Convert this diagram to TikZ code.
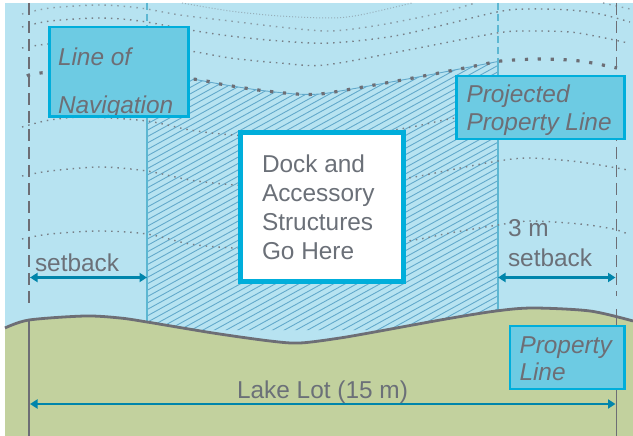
\documentclass[tikz,border=0pt]{standalone}
\usepackage{fontspec}
\setmainfont{Liberation Sans}
\usetikzlibrary{arrows.meta}
\definecolor{lake}{HTML}{B7E3F1}
\definecolor{land}{HTML}{C2D19E}
\definecolor{boxfill}{HTML}{6DCBE3}
\definecolor{boxline}{HTML}{00AEDB}
\definecolor{hatchc}{HTML}{62A9CB}
\definecolor{setc}{HTML}{5DB7D2}
\definecolor{greyc}{HTML}{6D6E75}
\definecolor{textc}{HTML}{6B7078}
\definecolor{arrowc}{HTML}{0085AB}
\tikzset{
  label text/.style={inner sep=0pt,outer sep=0pt,anchor=base west,text=textc,align=left,font=\fontsize{24.4}{29}\selectfont},
  tag text/.style={inner sep=0pt,outer sep=0pt,anchor=base west,text=greyc,align=left,font=\fontsize{24.4}{27.5}\selectfont\itshape},
  tag box/.style={draw=boxline,fill=boxfill,line width=2.4pt,inner sep=0pt,outer sep=0pt},
  dim arrow/.style={draw=arrowc,line width=2.2pt,{Triangle[length=7.5pt,width=9pt]}-{Triangle[length=7.5pt,width=9pt]}},
  fine dots/.style={draw=greyc!85!lake,line width=1.4pt,dash pattern=on 1.5pt off 4.9pt},
  faint dots/.style={draw=greyc!45!lake,line width=1pt,dash pattern=on 1pt off 2pt},
  heavy dots/.style={draw=greyc,line width=3.2pt,dash pattern=on 3.2pt off 9.7pt},
  prop dashed/.style={draw=greyc,line width=1.4pt,dash pattern=on 12pt off 6pt},
  prop solid/.style={draw=greyc,line width=1.6pt},
  set dashed/.style={draw=setc,line width=1.2pt,dash pattern=on 7pt off 4pt},
  set solid/.style={draw=setc,line width=1.2pt},
}
\begin{document}
\begin{tikzpicture}[x=1pt,y=-1pt]
\useasboundingbox (0,0) rectangle (633,436);
\fill[lake] (5,3) rectangle (633,345);
% hatched buildable area
\begin{scope}
\clip (147,73) -- plot[smooth] coordinates {(147,73) (193,79) (220,84) (258,90) (296,94) (320,94) (346,90) (413,78) (480,65) (498,61.5)} -- (498,330) -- (147,330) -- cycle;
\foreach \k in {0,...,80} {
  \draw[hatchc,line width=.9pt] (147,60+\k*6.4) -- (498,60+\k*6.4-193);
}
\end{scope}
\draw[hatchc,line width=.9pt] plot[smooth] coordinates {(193,79) (220,84) (258,90) (296,94) (320,94) (346,90) (413,78) (480,65) (498,61.5)};
% setback lines
\draw[set dashed] (147,3) -- (147,73);
\draw[set dashed] (498,3) -- (498,61);
\draw[set solid] (147,73) -- (147,323);
\draw[set solid] (498,61) -- (498,312);
% depth contours
\draw[faint dots] plot[smooth] coordinates {(182,3) (230,11) (280,16) (330,18) (360,15) (412,3)};
\draw[fine dots,draw=greyc!60!lake] plot[smooth] coordinates {(22,14) (50,8) (100,5) (140,8) (180,15) (230,21) (280,27) (330,31) (380,25) (440,13) (475,3)};
\draw[fine dots,draw=greyc!60!lake] plot[smooth] coordinates {(603,3) (630,9)};
\draw[fine dots] plot[smooth] coordinates {(22,27) (50,21) (100,18) (140,21) (190,30) (230,36) (280,41) (330,43) (400,35) (497,12) (530,9) (570,10) (600,14) (630,22)};
\draw[fine dots] plot[smooth] coordinates {(22,48) (48,44) (110,40) (190,51) (230,58) (280,63) (325,65) (408,50) (497,33) (530,31) (570,32) (600,37) (628,43)};
\draw[fine dots] plot[smooth] coordinates {(22,127) (50,120) (87,117) (147,121) (190,130) (233,135) (320,140) (406,128) (455,118) (530,108) (600,112) (626,120)};
\draw[fine dots] plot[smooth] coordinates {(22,176) (50,171) (100,167) (147,171) (190,180) (235,185) (320,190) (408,178) (450,170) (498,161) (530,158) (580,162) (628,170)};
\draw[fine dots] plot[smooth] coordinates {(22,239) (50,234) (100,231) (147,234) (190,244) (233,248) (320,252) (408,241) (450,233) (498,225) (530,221) (580,224) (613,229) (628,234)};
\draw[heavy dots] plot[smooth] coordinates {(27,76) (40,73) (100,70) (193,79) (220,84) (258,90) (296,94) (320,94) (346,90) (413,78) (480,65) (501,61) (540,59) (580,61) (617,68)};
% land
\fill[land] plot[smooth] coordinates {(5,328) (29,320) (85,316) (120,318) (147,322) (213,333) (270,341) (300,343) (340,338) (380,331) (446,319) (496,311) (533,308) (590,311) (633,321)} -- (633,436) -- (5,436) -- cycle;
% property lines
\coordinate (ltop) at (29,3);
\coordinate (lmid) at (29,306);
\coordinate (lgnd) at (29,319);
\coordinate (lbot) at (29,436);
\coordinate (rtop) at (616.5,3);
\coordinate (rmid) at (616.5,296);
\coordinate (rgnd) at (616.5,309);
\coordinate (rbot) at (616.5,436);
\draw[prop dashed] (ltop) -- (lmid);
\draw[prop solid] (lgnd) -- (lbot);
\draw[prop dashed] (rtop) -- (rmid);
\draw[prop solid] (rgnd) -- (rbot);
\draw[greyc,line width=2.8pt] plot[smooth] coordinates {(5,328) (29,320) (85,316) (120,318) (147,322) (213,333) (270,341) (300,343) (340,338) (380,331) (446,319) (496,311) (533,308) (590,311) (633,321)};
% dimension arrows
\coordinate (a1) at (30,277.5);
\coordinate (a2) at (147,277.5);
\coordinate (a3) at (498,277.5);
\coordinate (a4) at (615.5,277.5);
\coordinate (a5) at (30,404);
\coordinate (a6) at (615.5,404);
\draw[dim arrow] (a1) -- (a2);
\draw[dim arrow] (a3) -- (a4);
\draw[dim arrow] (a5) -- (a6);
% boxes
\node[tag box,minimum width=139pt,minimum height=89.5pt,anchor=north west] (nav) at (49.3,27) {};
\begin{scope}
\clip (49,27) rectangle (188,114.5);
\node[tag text,font=\fontsize{24.4}{48}\selectfont\itshape] (navt) at (58,113.5) {Line of\\Navigation};
\end{scope}
\node[tag box,minimum width=168pt,minimum height=63pt,anchor=north west] (proj) at (456.5,76) {};
\node[tag text] (projt) at (466.5,130.3) {Projected\\Property Line};
\node[tag box,minimum width=114.5pt,minimum height=63pt,anchor=north west] (prop) at (510,326) {};
\node[tag text,font=\fontsize{24.4}{26.7}\selectfont\itshape] (propt) at (519.5,380.5) {Property\\Line};
\node[draw=boxline,fill=white,line width=4.6pt,inner sep=0pt,outer sep=0pt,minimum width=163pt,minimum height=149pt,anchor=north west] (dock) at (240.3,132.3) {};
\node[label text] (dockt) at (262,259) {Dock and\\Accessory\\Structures\\Go Here};
% labels
\node[label text] (set1) at (35,271) {setback};
\node[label text,font=\fontsize{24.4}{30}\selectfont] (set2) at (508,266.5) {3 m\\setback};
\node[label text,anchor=base] (lot) at (322.5,398) {Lake Lot (15 m)};
\end{tikzpicture}
\end{document}
